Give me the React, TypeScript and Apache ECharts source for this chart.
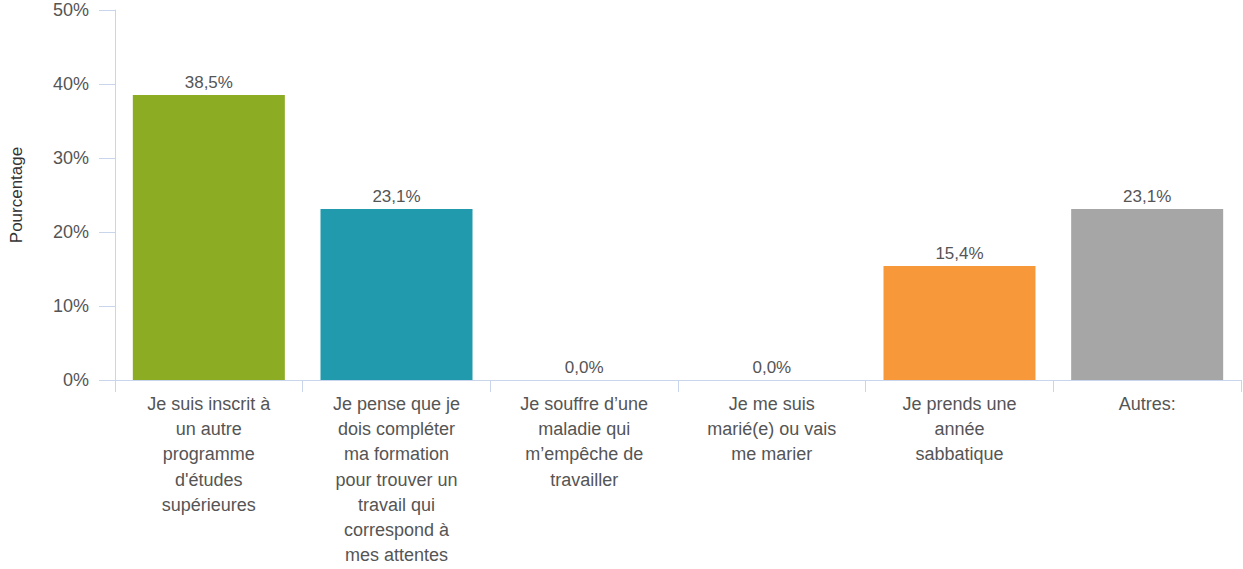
import React, { useEffect, useRef } from "react";
import * as echarts from "echarts";

const categories = [
  "Je suis inscrit à\nun autre\nprogramme\nd'études\nsupérieures",
  "Je pense que je\ndois compléter\nma formation\npour trouver un\ntravail qui\ncorrespond à\nmes attentes",
  "Je souffre d\u2019une\nmaladie qui\nm\u2019empêche de\ntravailler",
  "Je me suis\nmarié(e) ou vais\nme marier",
  "Je prends une\nannée\nsabbatique",
  "Autres:",
];
const values = [38.5, 23.1, 0.0, 0.0, 15.4, 23.1];
const barColors = ["#8cac23", "#219aae", "#8cac23", "#8cac23", "#f7993b", "#a6a6a6"];
const yTicks = { min: 0, max: 50, interval: 10 };
const yAxisName = "Pourcentage";

const FONT = "'Liberation Sans', Arial, sans-serif";
const TEXT = "#555555";
const AXIS = "#c9d5ea";

export default function App() {
  const ref = useRef<HTMLDivElement>(null);
  useEffect(() => {
    if (!ref.current) return;
    const chart = echarts.init(ref.current, undefined, { renderer: "svg" });
    chart.setOption({
      animation: false,
      textStyle: { fontFamily: FONT },
      grid: { left: 113, right: 2, top: 10, bottom: 189, containLabel: false },
      xAxis: {
        type: "category",
        data: categories,
        axisLine: { show: true, lineStyle: { color: AXIS, width: 1 } },
        axisTick: { show: true, alignWithLabel: false, length: 12, lineStyle: { color: AXIS } },
        axisLabel: {
          interval: 0,
          margin: 11,
          color: TEXT,
          fontSize: 18,
          lineHeight: 25.3,
          fontFamily: FONT,
        },
      },
      yAxis: {
        type: "value",
        min: yTicks.min,
        max: yTicks.max,
        interval: yTicks.interval,
        name: yAxisName,
        nameLocation: "middle",
        nameGap: 90,
        nameRotate: 90,
        nameTextStyle: { color: "#333", fontSize: 17, fontFamily: FONT },
        axisLine: { show: true, lineStyle: { color: AXIS } },
        axisTick: { show: true, length: 16, lineStyle: { color: AXIS } },
        splitLine: { show: false },
        axisLabel: {
          color: TEXT,
          fontSize: 18,
          margin: 26,
          fontFamily: FONT,
          formatter: (v: number) => `${v}%`,
        },
      },
      series: [
        {
          type: "bar",
          barWidth: "81%",
          data: values.map((v, i) => ({ value: v, itemStyle: { color: barColors[i] } })),
          label: {
            show: true,
            position: "top",
            distance: 4,
            color: TEXT,
            fontSize: 17,
            fontFamily: FONT,
            formatter: (p: any) => `${Number(p.value).toFixed(1).replace(".", ",")}%`,
          },
        },
      ],
    });
    return () => chart.dispose();
  }, []);
  return <div ref={ref} style={{ width: 1243, height: 569, position: "absolute", left: 0, top: 0 }} />;
}
